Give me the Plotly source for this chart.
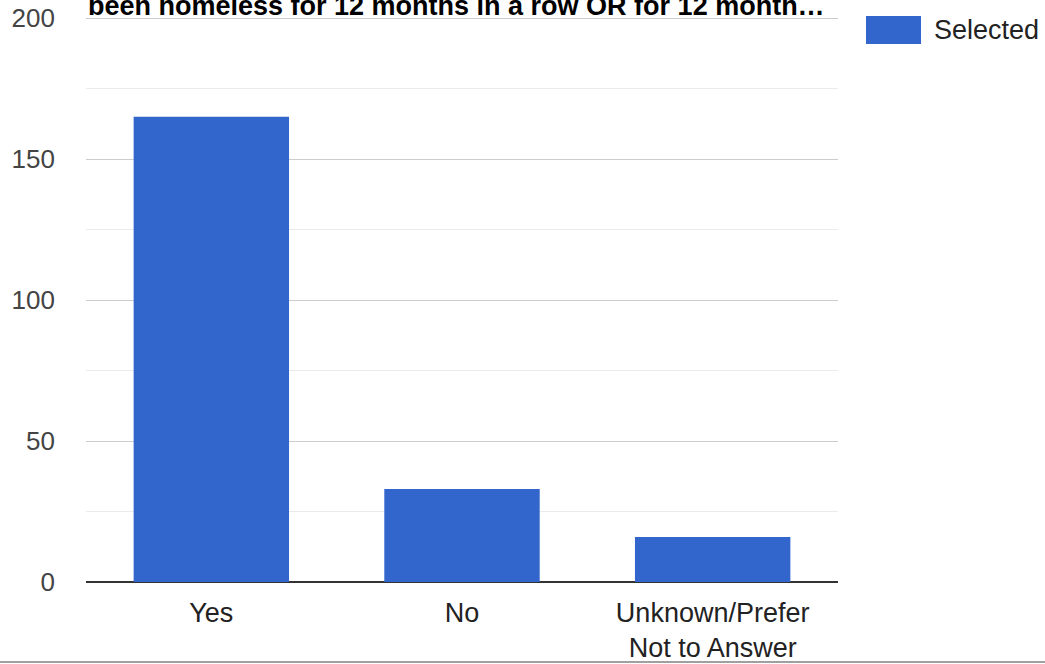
import plotly.graph_objects as go

# Survey responses
categories = ["Yes", "No", "Unknown/Prefer<br>Not to Answer"]
counts = [165, 33, 16]
series_name = "Selected"
title_text = "been homeless for 12 months in a row OR for 12 month\u2026"
y_ticks = [0, 50, 100, 150, 200]

W, H = 1045, 664
L, R, T, B = 86, 207, 18, 82
plot_w = W - L - R
plot_h = H - T - B
BLUE = "#3366CC"
FONT = "Liberation Sans, Arial, sans-serif"


def px_x(px):
    return (px - L) / plot_w


def px_y(py):
    return 1 - (py - T) / plot_h


fig = go.Figure(
    go.Bar(
        x=categories,
        y=counts,
        name=series_name,
        marker=dict(color=BLUE, line=dict(width=0)),
        showlegend=False,
    )
)

fig.update_layout(
    width=W,
    height=H,
    margin=dict(l=L, r=R, t=T, b=B, pad=0, autoexpand=False),
    plot_bgcolor="white",
    paper_bgcolor="white",
    bargap=0.38,
    font=dict(family=FONT, size=27, color="#444444"),
    xaxis=dict(
        automargin=False,
        showgrid=False,
        showline=False,
        ticks="",
        ticklabelstandoff=12,
        tickfont=dict(size=27, color="#222222"),
    ),
    yaxis=dict(
        automargin=False,
        range=[0, 200],
        tickvals=y_ticks,
        showgrid=True,
        gridcolor="#cccccc",
        gridwidth=1,
        zeroline=True,
        zerolinecolor="#333333",
        zerolinewidth=2,
        showline=False,
        ticks="",
        ticklabelstandoff=30,
        tickfont=dict(size=26, color="#444444"),
        minor=dict(dtick=25, showgrid=True, gridcolor="#ebebeb", gridwidth=1),
    ),
)

# Top gridline at the end of the value range
fig.add_shape(
    type="line", xref="paper", yref="y",
    x0=0, x1=1, y0=y_ticks[-1], y1=y_ticks[-1],
    line=dict(color="#cccccc", width=2), layer="below",
)

# Title line (wrapped title; only its last line fits the top edge)
fig.add_annotation(
    text="<b>" + title_text + "</b>",
    xref="paper", yref="paper",
    x=0, y=px_y(23),
    xanchor="left", yanchor="bottom",
    showarrow=False,
    font=dict(family=FONT, size=27, color="#000000"),
)

# Legend swatch and label
fig.add_shape(
    type="rect", xref="paper", yref="paper",
    x0=px_x(866), x1=px_x(921), y0=px_y(44), y1=px_y(16),
    fillcolor=BLUE, line=dict(width=0),
)
fig.add_annotation(
    text=series_name,
    xref="paper", yref="paper",
    x=px_x(932), y=px_y(30),
    xanchor="left", yanchor="middle",
    showarrow=False,
    font=dict(family=FONT, size=27, color="#222222"),
)

# Bottom border line
fig.add_shape(
    type="line", xref="paper", yref="paper",
    x0=px_x(0), x1=px_x(W), y0=px_y(662), y1=px_y(662),
    line=dict(color="#a0a0a0", width=2),
)

fig.write_html("out.html")
